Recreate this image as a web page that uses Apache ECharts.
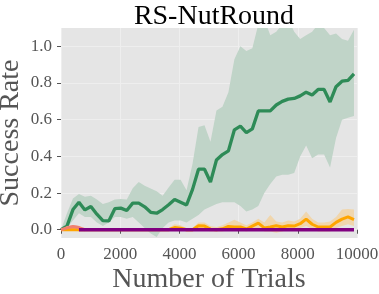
<!DOCTYPE html>
<html>
<head>
<meta charset="utf-8">
<script src="https://cdn.jsdelivr.net/npm/echarts@6/dist/echarts.min.js"></script>
<style>html,body{margin:0;padding:0;background:#fff;}#c{width:379px;height:294px;}</style>
</head>
<body>
<div id="c"></div>
<script>
// Trials at which evaluation happened
const trials = [0,202,404,606,808,1010,1212,1414,1616,1818,2020,2222,2424,2626,2828,3030,3232,3434,3636,3838,4040,4242,4444,4646,4848,5050,5252,5454,5656,5858,6060,6262,6464,6666,6868,7070,7272,7474,7676,7878,8080,8282,8484,8686,8888,9090,9292,9494,9696,9898];

// Green series (mean, lower, upper)
const greenMean = [0.0,0.02,0.11,0.15,0.108,0.127,0.085,0.05,0.048,0.115,0.118,0.105,0.145,0.145,0.125,0.095,0.09,0.11,0.136,0.165,0.15,0.135,0.22,0.33,0.33,0.26,0.38,0.41,0.43,0.545,0.565,0.53,0.55,0.648,0.648,0.648,0.68,0.70,0.712,0.716,0.73,0.75,0.735,0.765,0.765,0.697,0.78,0.81,0.815,0.85];
const greenLow  = [0.0,0.01,0.05,0.09,0.07,0.07,0.04,0.02,0.04,0.07,0.07,0.06,0.07,0.04,0.01,-0.02,-0.04,0.01,0.04,0.05,0.05,0.04,0.06,0.08,0.11,0.125,0.14,0.15,0.15,0.15,0.13,0.10,0.11,0.13,0.20,0.25,0.29,0.30,0.30,0.31,0.40,0.46,0.39,0.41,0.41,0.34,0.50,0.60,0.61,0.62];
const greenHigh = [0.0,0.09,0.17,0.195,0.18,0.186,0.165,0.14,0.15,0.165,0.167,0.165,0.226,0.26,0.24,0.225,0.21,0.185,0.23,0.272,0.272,0.215,0.36,0.56,0.57,0.48,0.65,0.67,0.75,0.93,1.0,0.975,0.99,1.12,1.15,1.06,1.08,1.12,1.15,1.08,1.04,1.06,1.08,1.12,1.1,1.06,1.07,1.04,1.03,1.09];

// Orange series
const orangeMean = [0,0,0,0,0,0,0,0,0,0,0,0,0,0,0,0,0,0,0,0.012,0.008,0,0,0.022,0.02,0.003,0,0.005,0.018,0.015,0.015,0.004,0.02,0.036,0.01,0.015,0.022,0.015,0.022,0.02,0.033,0.058,0.03,0.015,0.015,0.015,0.04,0.058,0.07,0.055];
const orangeHigh = [0,0,0,0,0,0,0,0,0,0,0,0,0,0,0,0,0,0,0.01,0.03,0.025,0.01,0.01,0.04,0.04,0.02,0.015,0.025,0.04,0.054,0.04,0.025,0.04,0.06,0.04,0.08,0.045,0.04,0.05,0.045,0.06,0.1,0.06,0.04,0.04,0.045,0.07,0.11,0.113,0.11];
const orangeLow  = [0,0,0,0,0,0,0,0,0,0,0,0,0,0,0,0,0,0,0,0,0,-0.01,-0.01,0,0,-0.01,-0.01,-0.01,0,0,0,-0.01,0,0.01,-0.01,-0.01,-0.017,-0.01,0,0,0.01,0.02,0.005,-0.01,-0.01,-0.01,0.01,0.02,0.03,0.02];

// Salmon series (only at the beginning)
const salmonMean = [0,0.01,0.018,0.012,0];
const salmonHigh = [0,0.02,0.025,0.02,0];
const salmonLow  = [0,0,0,0,0];

// Purple series (flat at zero, starts at the 4th evaluation)
const purpleStart = 3;
const purpleMean = [0,0,0,0,0,0,0,0,0,0,0,0,0,0,0,0,0,0,0,0,0,0,0,0,0,0,0,0,0,0,0,0,0,0,0,0,0,0,0,0,0,0,0,0,0,0,0,0];

const yTicks = [0.0,0.2,0.4,0.6,0.8,1.0];

function pairs(xs, ys, off) { return ys.map((v,i)=>[xs[i+(off||0)], v]); }
function band(xs, lo, hi, color, z) {
  return {
    type:'custom', clip:true, silent:true, z:z,
    data: lo.map((v,i)=>[xs[i], v, hi[i]]),
    encode:{x:0, y:[1,2]},
    renderItem:function(params, api){
      if (params.dataIndexInside !== 0) return null;
      const n = params.dataInsideLength;
      const top = [], bot = [];
      for (let j=0;j<n;j++){
        top.push(api.coord([api.value(0,j), api.value(2,j)]));
        bot.push(api.coord([api.value(0,j), api.value(1,j)]));
      }
      return {type:'polygon', shape:{points: top.concat(bot.reverse())}, style:{fill:color}};
    }
  };
}
const font = 'Liberation Serif';
const chart = echarts.init(document.getElementById('c'), null, {renderer:'canvas'});
chart.setOption({
  animation:false,
  backgroundColor:'#ffffff',
  title:{text:'RS-NutRound', left:209, top:-2, textAlign:'center',
    textStyle:{fontFamily:font, fontSize:28, fontWeight:'normal', color:'#000'}},
  grid:{left:61, right:22, top:28, bottom:56, show:true, backgroundColor:'#e5e5e5', borderWidth:0,
    outerBoundsMode:'none', containLabel:false},
  xAxis:{type:'value', min:0, max:10000, interval:2000,
    name:'Number of Trials', nameLocation:'middle', nameGap:28, nameMoveOverlap:false,
    nameTextStyle:{fontFamily:font, fontSize:28, color:'#555'},
    axisLine:{show:false},
    axisTick:{show:true, length:4, lineStyle:{color:'#555'}},
    axisLabel:{fontFamily:font, fontSize:17, color:'#555', margin:8, formatter:v=>String(v)},
    splitLine:{show:true, lineStyle:{color:'#eeeeee', width:1}}},
  yAxis:{type:'value', min:-0.045, max:1.1,
    name:'Success Rate', nameLocation:'middle', nameGap:36, nameMoveOverlap:false,
    nameTextStyle:{fontFamily:font, fontSize:28, color:'#555'},
    axisLine:{show:false},
    axisTick:{show:true, length:4, lineStyle:{color:'#555'}, customValues:yTicks},
    axisLabel:{fontFamily:font, fontSize:17, color:'#555', margin:9, customValues:yTicks,
      formatter:v=>v.toFixed(1)},
    splitLine:{show:true, lineStyle:{color:'#eeeeee', width:1}}},
  series:[
    band(trials, greenLow, greenHigh, '#c0d4c8', 1),
    {type:'line', data:pairs(trials, greenMean), symbol:'none', lineStyle:{color:'#2e8b57', width:3.3}, z:2},
    band(trials, orangeLow, orangeHigh, '#f0d6ad', 2),
    {type:'line', data:pairs(trials, orangeMean), symbol:'none', lineStyle:{color:'#ffa500', width:3}, z:3},
    band(trials, salmonLow, salmonHigh, '#f0a090', 3),
    {type:'line', data:pairs(trials, salmonMean), symbol:'none', lineStyle:{color:'#f08070', width:3}, z:3},
    {type:'line', data:pairs(trials, purpleMean, purpleStart), symbol:'none',
     lineStyle:{color:'#800080', width:3.5}, z:4}
  ]
});
</script>
</body>
</html>
